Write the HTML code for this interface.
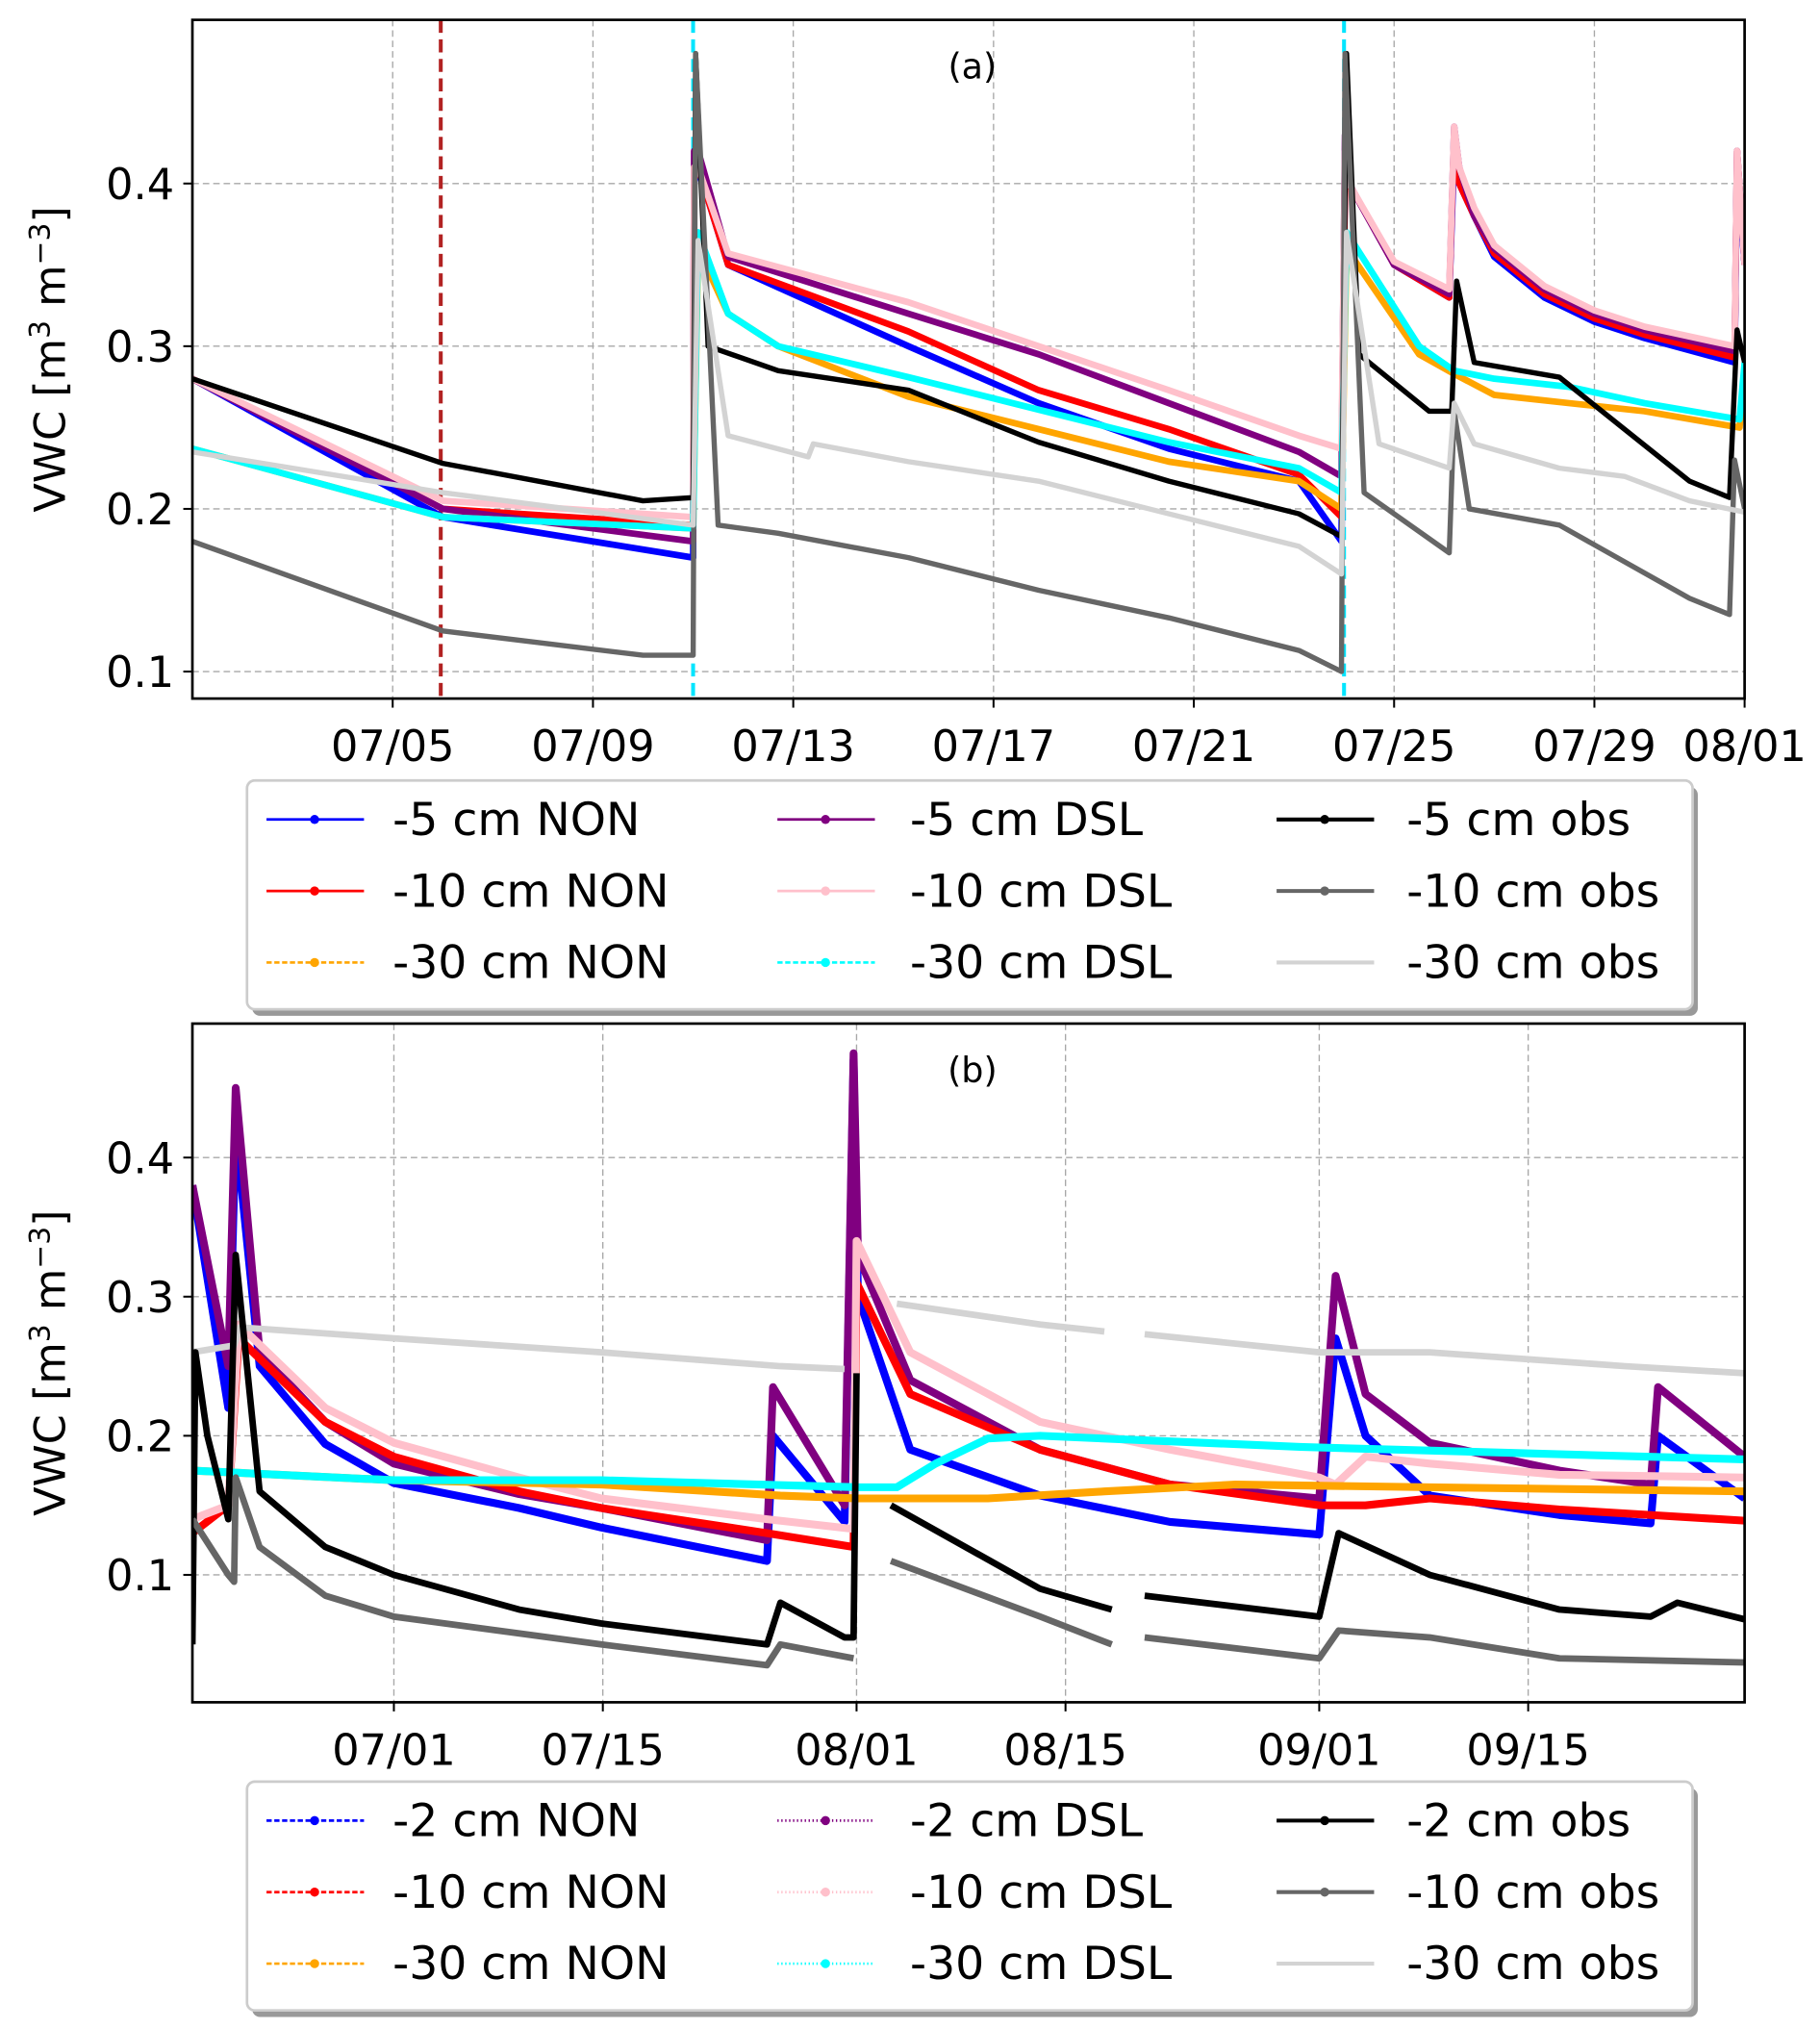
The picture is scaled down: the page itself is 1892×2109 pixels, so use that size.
<!DOCTYPE html>
<html><head><meta charset="utf-8"><style>
html,body{margin:0;padding:0;background:#fff;}
svg{display:block;font-family:"DejaVu Sans","Liberation Sans",sans-serif;}
</style></head><body>
<svg id="chart" width="1892" height="2109" viewBox="0 0 1400 1560" xmlns="http://www.w3.org/2000/svg">
<g id="pa"></g>
<g id="pb"></g>
</svg>
<script>
// ---- Panel (a) data: day since 07/01, VWC ----
const aTicksDays = [4, 8, 12, 16, 20, 24, 28, 31];
const aTickLabels = ["07/05", "07/09", "07/13", "07/17", "07/21", "07/25", "07/29", "08/01"];
const yTicks = [0.1, 0.2, 0.3, 0.4];
const aBlueT = [0, 5, 10, 10.02, 10.1, 10.7, 14.3, 16.9, 19.5, 22.1, 22.95, 23.02, 23.1, 24, 25.1, 25.2, 25.3, 25.6, 26, 27, 28, 29, 30.8, 30.85, 31];
const aBlueV = [0.28, 0.195, 0.17, 0.4, 0.41, 0.35, 0.30, 0.265, 0.237, 0.217, 0.18, 0.41, 0.40, 0.35, 0.33, 0.42, 0.40, 0.38, 0.355, 0.33, 0.315, 0.305, 0.29, 0.41, 0.35];
const aRedT = aBlueT;
const aRedV = [0.28, 0.2, 0.19, 0.41, 0.41, 0.35, 0.309, 0.273, 0.249, 0.221, 0.195, 0.40, 0.40, 0.35, 0.33, 0.43, 0.40, 0.38, 0.357, 0.332, 0.317, 0.307, 0.293, 0.42, 0.35];
const aPurpleT = aBlueT;
const aPurpleV = [0.28, 0.2, 0.18, 0.42, 0.42, 0.355, 0.32, 0.295, 0.265, 0.235, 0.22, 0.43, 0.40, 0.35, 0.332, 0.435, 0.41, 0.38, 0.36, 0.335, 0.32, 0.31, 0.297, 0.42, 0.35];
const aPinkT = aBlueT;
const aPinkV = [0.28, 0.205, 0.195, 0.41, 0.41, 0.357, 0.327, 0.30, 0.273, 0.245, 0.237, 0.42, 0.40, 0.352, 0.335, 0.435, 0.41, 0.385, 0.362, 0.337, 0.322, 0.312, 0.30, 0.42, 0.35];
const aCyanT = [0, 5, 10, 10.1, 10.7, 11.7, 14.3, 16.9, 19.5, 22.1, 22.95, 23.05, 24.5, 25.2, 26, 27.5, 29, 30.9, 31];
const aCyanV = [0.237, 0.195, 0.188, 0.37, 0.32, 0.30, 0.281, 0.261, 0.241, 0.225, 0.21, 0.37, 0.30, 0.285, 0.28, 0.275, 0.265, 0.255, 0.29];
const aOrangeT = aCyanT;
const aOrangeV = [0.237, 0.195, 0.188, 0.36, 0.32, 0.30, 0.269, 0.249, 0.229, 0.217, 0.20, 0.36, 0.295, 0.283, 0.27, 0.265, 0.26, 0.25, 0.285];
const aBlackT = [0, 5, 9, 10, 10.05, 10.3, 11.7, 14.3, 16.9, 19.5, 22.1, 22.95, 23.05, 23.3, 24.7, 25.15, 25.25, 25.6, 27.3, 28.6, 29.9, 30.7, 30.85, 31];
const aBlackV = [0.28, 0.228, 0.205, 0.207, 0.48, 0.30, 0.285, 0.273, 0.241, 0.217, 0.197, 0.183, 0.48, 0.295, 0.26, 0.26, 0.34, 0.29, 0.281, 0.249, 0.217, 0.207, 0.31, 0.29];
const aDGreyT = [0, 5, 9, 10, 10.05, 10.5, 11.7, 14.3, 16.9, 19.5, 22.1, 22.95, 23.02, 23.4, 25.1, 25.2, 25.5, 27.3, 29.9, 30.7, 30.8, 31];
const aDGreyV = [0.18, 0.125, 0.11, 0.11, 0.48, 0.19, 0.185, 0.17, 0.15, 0.133, 0.113, 0.10, 0.48, 0.21, 0.173, 0.26, 0.20, 0.19, 0.145, 0.135, 0.23, 0.20];
const aLGreyT = [0, 5, 10, 10.1, 10.7, 12.3, 12.4, 14.3, 16.9, 19.5, 22.1, 22.95, 23.05, 23.7, 25.1, 25.2, 25.6, 27.3, 28.6, 29.9, 31];
const aLGreyV = [0.235, 0.21, 0.19, 0.365, 0.245, 0.232, 0.24, 0.229, 0.217, 0.197, 0.177, 0.16, 0.37, 0.24, 0.225, 0.265, 0.24, 0.225, 0.22, 0.205, 0.198];
const aEventDays = [4.96, 10, 23];

// ---- Panel (b) data: day since 07/01 ----
const bTicksDays = [0, 14, 31, 45, 62, 76];
const bTickLabels = ["07/01", "07/15", "08/01", "08/15", "09/01", "09/15"];
const bBlueT = [-13.5, -11.1, -10.6, -9.0, -4.6, 0, 8.4, 13.9, 25.0, 25.4, 30.2, 30.8, 31.1, 34.6, 43.3, 52.0, 62.0, 63.1, 65.1, 69.4, 78.1, 84.2, 84.7, 90.5];
const bBlueV = [0.38, 0.22, 0.42, 0.25, 0.194, 0.166, 0.148, 0.134, 0.11, 0.2, 0.138, 0.47, 0.3, 0.19, 0.157, 0.138, 0.129, 0.27, 0.2, 0.157, 0.143, 0.137, 0.2, 0.155];
const bPurpleT = bBlueT;
const bPurpleV = [0.38, 0.25, 0.45, 0.26, 0.21, 0.18, 0.158, 0.148, 0.125, 0.235, 0.15, 0.475, 0.33, 0.24, 0.19, 0.165, 0.155, 0.315, 0.23, 0.195, 0.175, 0.165, 0.235, 0.185];
const bRedT = [-13.5, -11.1, -10.4, -4.6, 0, 8.4, 13.9, 25.0, 30.8, 31.0, 34.6, 43.3, 52.0, 62.0, 65.1, 69.4, 78.1, 90.5];
const bRedV = [0.13, 0.15, 0.27, 0.21, 0.185, 0.16, 0.148, 0.13, 0.12, 0.31, 0.23, 0.19, 0.165, 0.15, 0.15, 0.155, 0.147, 0.139];
const bPinkT = [-13.5, -11.1, -10.4, -4.6, 0, 8.4, 13.9, 25.0, 30.8, 31.0, 34.6, 43.3, 52.0, 62.0, 63.1, 65.1, 69.4, 78.1, 90.5];
const bPinkV = [0.14, 0.15, 0.28, 0.22, 0.195, 0.17, 0.155, 0.14, 0.133, 0.34, 0.26, 0.21, 0.19, 0.17, 0.165, 0.185, 0.18, 0.172, 0.17];
const bCyanT = [-13.5, 0, 13.9, 31.1, 33.7, 36.3, 39.8, 43.3, 60.7, 90.5];
const bCyanV = [0.175, 0.168, 0.168, 0.163, 0.163, 0.18, 0.198, 0.2, 0.192, 0.183];
const bOrangeT = [-13.5, 0, 13.9, 25.9, 31.1, 39.8, 47.6, 56.4, 69.4, 90.5];
const bOrangeV = [0.175, 0.168, 0.165, 0.157, 0.155, 0.155, 0.16, 0.165, 0.163, 0.16];
const bLGreyT = [-13.5, -10.7, -10.3, 0, 13.9, 25.9, 30.2, 30.8, 33.7, 43.3, 47.6, 48.1, 50.3, 62.0, 69.4, 82.5, 90.5];
const bLGreyV = [0.26, 0.265, 0.278, 0.27, 0.26, 0.25, 0.248, null, 0.295, 0.28, 0.275, null, 0.273, 0.26, 0.26, 0.25, 0.245];
const bBlackT = [-13.5, -13.3, -12.5, -11.1, -10.6, -9.0, -4.6, 0, 8.4, 13.9, 25.0, 25.9, 30.2, 30.8, 31.0, 31.2, 33.3, 43.3, 48.1, 49, 50.3, 62.0, 63.3, 69.4, 78.1, 84.2, 86.0, 90.5];
const bBlackV = [0.05, 0.26, 0.2, 0.14, 0.33, 0.16, 0.12, 0.1, 0.075, 0.065, 0.05, 0.08, 0.055, 0.055, 0.245, null, 0.15, 0.09, 0.075, null, 0.085, 0.07, 0.13, 0.1, 0.075, 0.07, 0.08, 0.068];
const bDGreyT = [-13.5, -11.1, -10.7, -10.6, -9.0, -4.6, 0, 13.9, 25.0, 25.9, 30.8, 31.2, 33.3, 43.3, 48.1, 49, 50.3, 62.0, 63.3, 69.4, 78.1, 90.5];
const bDGreyV = [0.14, 0.1, 0.095, 0.17, 0.12, 0.085, 0.07, 0.05, 0.035, 0.05, 0.04, null, 0.11, 0.07, 0.05, null, 0.055, 0.04, 0.06, 0.055, 0.04, 0.037];

const NS = "http://www.w3.org/2000/svg";
function mk(parent, tag, attrs) {
  const e = document.createElementNS(NS, tag);
  for (const k in attrs) e.setAttribute(k, attrs[k]);
  parent.appendChild(e);
  return e;
}
// vBot = value at bottom edge, vTop = value at top edge
function axisFns(x0, x1, d0, d1, yTop, yBot, vBot, vTop) {
  return {
    x: d => x0 + (d - d0) / (d1 - d0) * (x1 - x0),
    y: v => yBot - (v - vBot) / (vTop - vBot) * (yBot - yTop)
  };
}
function pathFor(ax, T, V) {
  let d = "", pen = false;
  for (let i = 0; i < T.length; i++) {
    if (V[i] === null) { pen = false; continue; }
    d += (pen ? "L" : "M") + ax.x(T[i]).toFixed(1) + "," + ax.y(V[i]).toFixed(1);
    pen = true;
  }
  return d;
}
function drawPanel(g, box, ax, ticksD, tickL, label, series, events) {
  const [x0, y0, x1, y1] = box;
  const grid = mk(g, "g", {});
  
  
  ticksD.forEach((d, i) => {
    const gl = mk(grid, "line", {x1: ax.x(d), x2: ax.x(d), y1: y0, y2: y1, stroke: "#a8a8a8", "stroke-width": 1, "stroke-dasharray": "5,3"});
    
    
    const tk = mk(g, "line", {x1: ax.x(d), x2: ax.x(d), y1: y1, y2: y1 + 7, stroke: "#000", "stroke-width": 1.5});
    
    
    const t = mk(g, "text", {x: ax.x(d), y: y1 + 48, "text-anchor": "middle", "font-size": 33});
    t.textContent = tickL[i];
    
    
  });
  yTicks.forEach(v => {
    const gl = mk(grid, "line", {x1: x0, x2: x1, y1: ax.y(v), y2: ax.y(v), stroke: "#a8a8a8", "stroke-width": 1, "stroke-dasharray": "5,3"});
    
    
    const tk = mk(g, "line", {x1: x0 - 7, x2: x0, y1: ax.y(v), y2: ax.y(v), stroke: "#000", "stroke-width": 1.5});
    
    
    const t = mk(g, "text", {x: x0 - 14, y: ax.y(v) + 12, "text-anchor": "end", "font-size": 33});
    t.textContent = v.toFixed(1);
    
    
  });
  const clipId = "clip" + x0 + y0;
  const cp = mk(mk(g, "defs", {}), "clipPath", {id: clipId});
  mk(cp, "rect", {x: x0, y: y0, width: x1 - x0, height: y1 - y0});
  const plot = mk(g, "g", {"clip-path": "url(#" + clipId + ")"});
  
  
  (events || []).forEach(ev => {
    const l = mk(plot, "line", {x1: ax.x(ev.d), x2: ax.x(ev.d), y1: y0, y2: y1, stroke: ev.c, "stroke-width": 3, "stroke-dasharray": "10,5"});
    
    
  });
  series.forEach(s => {
    const p = mk(plot, "path", {d: pathFor(ax, s.T, s.V), fill: "none", stroke: s.c, "stroke-width": s.w, "stroke-linejoin": "round"});
    
    
  });
  const fr = mk(g, "rect", {x: x0, y: y0, width: x1 - x0, height: y1 - y0, fill: "none", stroke: "#000", "stroke-width": 2});
  
  
  const tl = mk(g, "text", {x: 748, y: y0 + 45, "text-anchor": "middle", "font-size": 27});
  tl.textContent = label;
  
  
  const yl = mk(g, "text", {transform: "translate(50," + ((y0 + y1) / 2) + ") rotate(-90)", "text-anchor": "middle", "font-size": 33});
  yl.innerHTML = 'VWC [m<tspan dy="-12" font-size="22">3</tspan><tspan dy="12"> m</tspan><tspan dy="-12" font-size="22">−3</tspan><tspan dy="12">]</tspan>';
  
  
}
function drawLegend(g, top, entries) {
  const sh = mk(g, "rect", {x: 194, y: top + 5, width: 1112, height: 176, rx: 6, fill: "#999"});
  
  
  const bx = mk(g, "rect", {x: 190, y: top, width: 1112, height: 176, rx: 6, fill: "#fff", stroke: "#ccc", "stroke-width": 2});
  
  
  const cols = [[205, 302], [598, 700], [982, 1082]];
  entries.forEach((e, i) => {
    const c = cols[Math.floor(i / 3)], ry = top + 30 + (i % 3) * 55;
    const ln = mk(g, "line", {x1: c[0], x2: c[0] + 75, y1: ry, y2: ry, stroke: e.c, "stroke-width": e.w, "stroke-dasharray": e.dash || ""});
    
    
    if (e.m) {
      const m = mk(g, "circle", {cx: c[0] + 37, cy: ry, r: 3.5, fill: e.c});
      
      
    }
    const t = mk(g, "text", {x: c[1], y: ry + 12, "font-size": 35});
    t.textContent = e.t;
    
    
  });
}
const A = axisFns(148, 1342, 0, 31, 15, 537, 0.0834, 0.5006);
drawPanel(document.getElementById("pa"), [148, 15, 1342, 537], A, aTicksDays, aTickLabels, "(a)", [
  {n: "series-5cm-non", T: aBlueT, V: aBlueV, c: "#0000ff", w: 5},
  {n: "series-10cm-non", T: aRedT, V: aRedV, c: "#ff0000", w: 5},
  {n: "series-5cm-dsl", T: aPurpleT, V: aPurpleV, c: "#800080", w: 5},
  {n: "series-10cm-dsl", T: aPinkT, V: aPinkV, c: "#ffc0cb", w: 5},
  {n: "series-30cm-non", T: aOrangeT, V: aOrangeV, c: "#ffa500", w: 5},
  {n: "series-30cm-dsl", T: aCyanT, V: aCyanV, c: "#00ffff", w: 5},
  {n: "series-5cm-obs", T: aBlackT, V: aBlackV, c: "#000", w: 4},
  {n: "series-10cm-obs", T: aDGreyT, V: aDGreyV, c: "#666", w: 4},
  {n: "series-30cm-obs", T: aLGreyT, V: aLGreyV, c: "#d3d3d3", w: 4}
], [{d: aEventDays[0], c: "#b22222"}, {d: aEventDays[1], c: "#00e5ff"}, {d: aEventDays[2], c: "#00e5ff"}]);
drawLegend(document.getElementById("pa"), 600, [
  {t: "-5 cm NON", c: "#0000ff", w: 2, m: 1}, {t: "-10 cm NON", c: "#ff0000", w: 2, m: 1}, {t: "-30 cm NON", c: "#ffa500", w: 2, m: 1, dash: "4,2"},
  {t: "-5 cm DSL", c: "#800080", w: 2, m: 1}, {t: "-10 cm DSL", c: "#ffc0cb", w: 2, m: 1}, {t: "-30 cm DSL", c: "#00ffff", w: 2, m: 1, dash: "4,2"},
  {t: "-5 cm obs", c: "#000", w: 3, m: 1}, {t: "-10 cm obs", c: "#666", w: 3, m: 1}, {t: "-30 cm obs", c: "#d3d3d3", w: 3}
]);
const B = axisFns(148, 1342, -13.5, 90.5, 787, 1309, 0.0084, 0.4963);
drawPanel(document.getElementById("pb"), [148, 787, 1342, 1309], B, bTicksDays, bTickLabels, "(b)", [
  {n: "series-2cm-non", T: bBlueT, V: bBlueV, c: "#0000ff", w: 6},
  {n: "series-2cm-dsl", T: bPurpleT, V: bPurpleV, c: "#800080", w: 6},
  {n: "series-10cm-non", T: bRedT, V: bRedV, c: "#ff0000", w: 6},
  {n: "series-10cm-dsl", T: bPinkT, V: bPinkV, c: "#ffc0cb", w: 6},
  {n: "series-30cm-non", T: bOrangeT, V: bOrangeV, c: "#ffa500", w: 6},
  {n: "series-30cm-dsl", T: bCyanT, V: bCyanV, c: "#00ffff", w: 6},
  {n: "series-30cm-obs", T: bLGreyT, V: bLGreyV, c: "#d3d3d3", w: 5},
  {n: "series-2cm-obs", T: bBlackT, V: bBlackV, c: "#000", w: 5},
  {n: "series-10cm-obs", T: bDGreyT, V: bDGreyV, c: "#666", w: 5}
], []);
drawLegend(document.getElementById("pb"), 1370, [
  {t: "-2 cm NON", c: "#0000ff", w: 2, m: 1, dash: "4,2"}, {t: "-10 cm NON", c: "#ff0000", w: 2, m: 1, dash: "4,2"}, {t: "-30 cm NON", c: "#ffa500", w: 2, m: 1, dash: "4,2"},
  {t: "-2 cm DSL", c: "#800080", w: 2, m: 1, dash: "1,2"}, {t: "-10 cm DSL", c: "#ffc0cb", w: 2, m: 1, dash: "1,2"}, {t: "-30 cm DSL", c: "#00ffff", w: 2, m: 1, dash: "1,2"},
  {t: "-2 cm obs", c: "#000", w: 3, m: 1}, {t: "-10 cm obs", c: "#666", w: 3, m: 1}, {t: "-30 cm obs", c: "#d3d3d3", w: 3}
]);
</script>
</body></html>
